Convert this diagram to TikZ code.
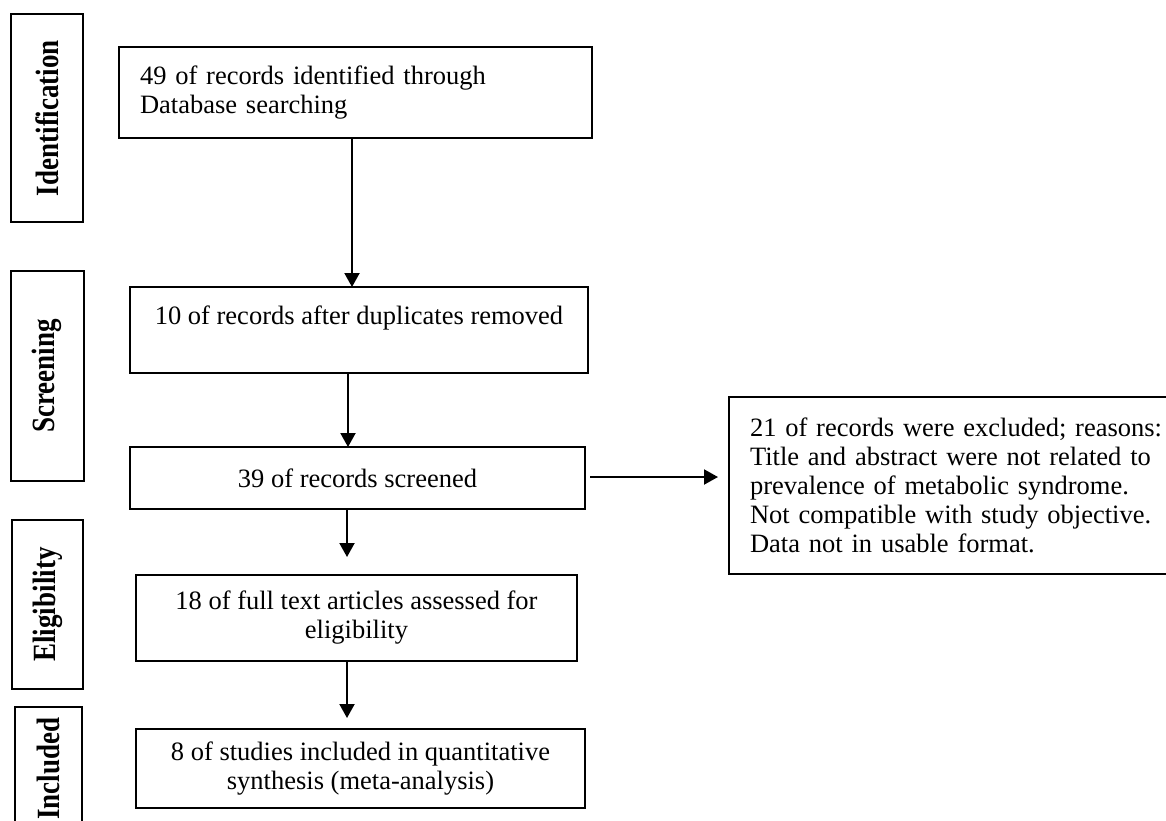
\documentclass[tikz,border=0pt]{standalone}
\usepackage{fontspec}
\setmainfont{Liberation Serif}
\usetikzlibrary{arrows.meta,calc}
\newcommand{\phasename}[1]{\scalebox{1}[1.2]{#1}}

\begin{document}
\begin{tikzpicture}[x=0.5pt,y=-0.5pt,
  box/.style={draw,line width=1pt,inner sep=0pt,outer sep=0pt,align=center,
    font=\fontsize{13.25}{14.5}\selectfont},
  leftbox/.style={box,align=left,inner xsep=10.5pt},
  phase/.style={draw,line width=1pt,inner sep=0pt,outer sep=0pt,rotate=90,
    font=\fontsize{13.5}{15}\selectfont\bfseries},
  arr/.style={line width=1pt,-{Triangle[length=7pt,width=7.5pt]}}]
% \draw [help lines] (0,0) grid[step=50] (1166,820)  ;
\useasboundingbox (0,0) rectangle (1166,820);

% phases on the left
\node[phase,minimum width=104pt,minimum height=36pt]   (ident)  at (47,118)     {\phasename{Identification}};
\node[phase,minimum width=105pt,minimum height=36.5pt] (screen) at (47,376)     {\phasename{Screening}};
\node[phase,minimum width=84.5pt,minimum height=35.5pt] (elig)  at (47.5,604.5) {\phasename{Eligibility}};
\node[phase,minimum width=61.5pt,minimum height=33.5pt] (incl)  at (48.5,768.5) {\phasename{Included}};

% flow
\node[leftbox,text width=215.5pt,minimum height=45.5pt] (found) at (355.5,92.5)
  {49 of records identified through\\Database searching};
\node[box,minimum width=229pt,minimum height=43pt] (dedup) at (359,330)
  {10 of records after duplicates removed\\ \mbox{}};
\node[box,minimum width=227.5pt,minimum height=31pt] (screened) at (357.5,478)
  {39 of records screened};
\node[leftbox,text width=215pt,minimum height=88.5pt] (excluded) at (965,485.5)
  {21 of records were excluded; reasons:\\Title and abstract were not related to\\prevalence of metabolic syndrome.\\Not compatible with study objective.\\Data not in usable format.};
\node[box,minimum width=220.5pt,minimum height=43pt] (fulltext) at (356.5,618)
  {18 of full text articles assessed for\\eligibility};
\node[box,minimum width=224.5pt,minimum height=39.5pt] (synth) at (360.5,768.5)
  {8 of studies included in quantitative\\synthesis (meta-analysis)};

\draw[arr] ($(found.south)+(-3.5,0)$) -- ($(found.south |- dedup.north)+(-3.5,0)$);
\draw[arr] ($(dedup.south)+(-11,0)$) -- ($(dedup.south |- screened.north)+(-11,0)$);
\draw[arr] ($(screened.east)+(5,-1)$) -- ($(excluded.west |- screened.east)+(-11,-1)$);
\draw[arr] ($(screened.south)+(-10.5,0)$) -- ($(screened.south |- fulltext.north)+(-10.5,-18)$);
\draw[arr] ($(fulltext.south)+(-9.5,0)$) -- ($(fulltext.south |- synth.north)+(-9.5,-11)$);
\end{tikzpicture}
\end{document}
